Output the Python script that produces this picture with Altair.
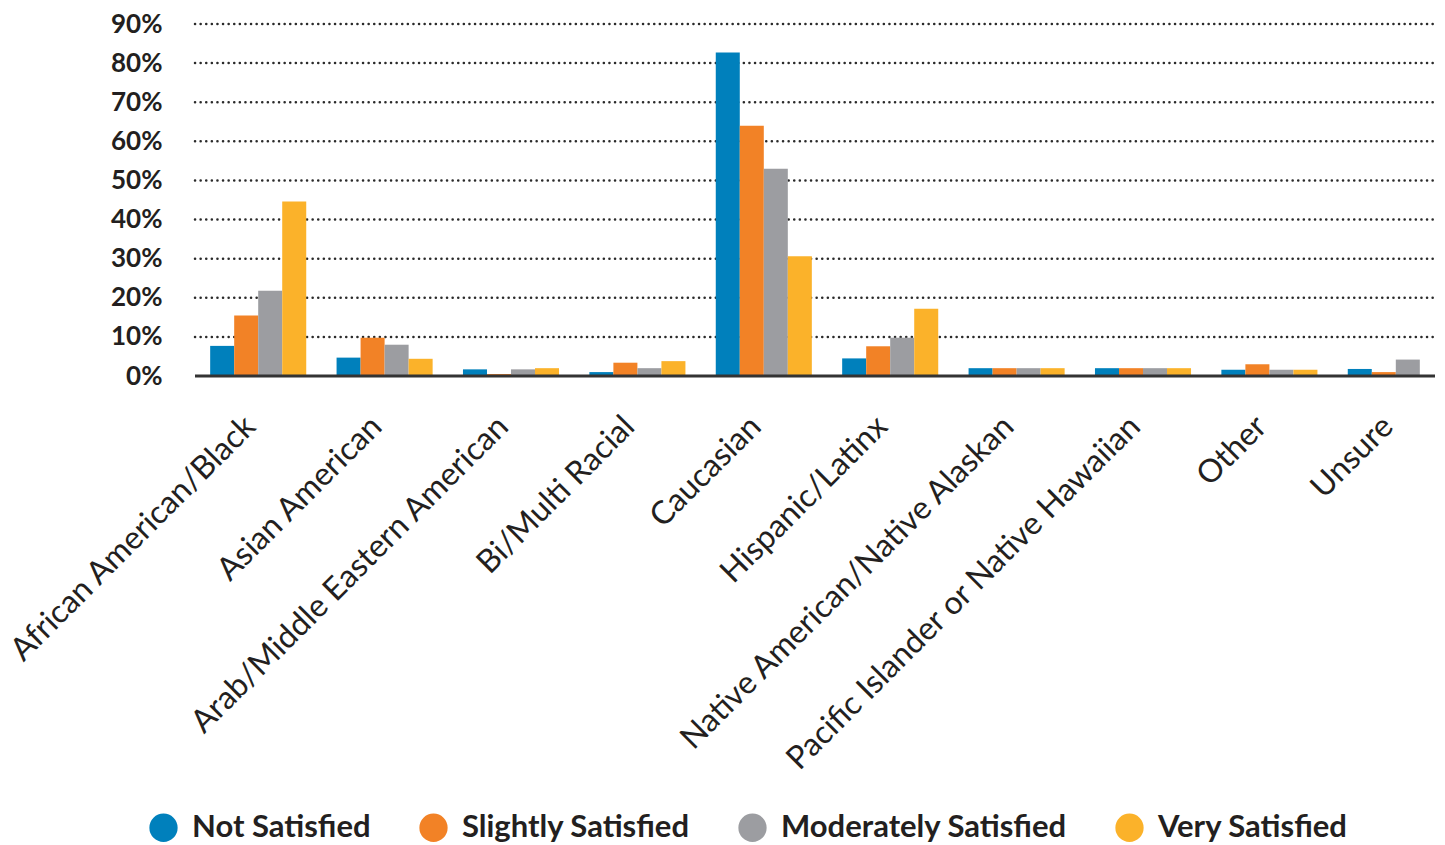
import altair as alt
import pandas as pd

categories = ["African American/Black", "Asian American", "Arab/Middle Eastern American",
              "Bi/Multi Racial", "Caucasian", "Hispanic/Latinx",
              "Native American/Native Alaskan", "Pacific Islander or Native Hawaiian",
              "Other", "Unsure"]
series = ["Not Satisfied", "Slightly Satisfied", "Moderately Satisfied", "Very Satisfied"]
colors = ["#0080BC", "#F28226", "#9C9DA1", "#FBB22A"]
tick_values = [0, 0.1, 0.2, 0.3, 0.4, 0.5, 0.6, 0.7, 0.8, 0.9]

not_satisfied = [7.7, 4.7, 1.7, 1.0, 82.7, 4.5, 2.0, 2.0, 1.6, 1.8]
slightly_satisfied = [15.5, 9.8, 0.5, 3.4, 64.0, 7.6, 2.0, 2.0, 3.0, 1.0]
moderately_satisfied = [21.8, 8.0, 1.7, 2.0, 53.0, 9.8, 2.0, 2.0, 1.6, 4.2]
very_satisfied = [44.6, 4.4, 2.0, 3.8, 30.6, 17.2, 2.0, 2.0, 1.6, 0.0]

rows = []
for s, vals in zip(series, [not_satisfied, slightly_satisfied, moderately_satisfied, very_satisfied]):
    for c, v in zip(categories, vals):
        rows.append({"group": c, "series": s, "value": v / 100})
df = pd.DataFrame(rows)

yscale = alt.Scale(domain=[0, 0.9], nice=False)
yaxis = alt.Axis(values=tick_values, format=".0%", labelFont="Lato",
                 labelFontWeight="bold", labelFontSize=26, labelColor="#231F20",
                 labelPadding=33, ticks=False, domain=False, grid=False)

grid = alt.Chart(pd.DataFrame({"value": tick_values[1:]})).mark_rule(
    color="#2a2a2a", strokeWidth=2.5, strokeDash=[0.1, 5.5], strokeCap="round"
).encode(y=alt.Y("value:Q", title=None, scale=yscale, axis=yaxis),
         x=alt.value(0), x2=alt.value(1240))

bars = alt.Chart(df).mark_bar().encode(
    x=alt.X("group:N", sort=categories, title=None,
            scale=alt.Scale(paddingInner=0.24, paddingOuter=0.12, range=[0, 1264]),
            axis=alt.Axis(labelAngle=-45, labelAlign="right", labelBaseline="middle",
                          labelFont="Lato", labelFontSize=32, labelColor="#231F20",
                          labelPadding=45, labelOffset=-8, ticks=False, domain=False,
                          grid=False, labelLimit=700)),
    xOffset=alt.XOffset("series:N", sort=series),
    y=alt.Y("value:Q", title=None, scale=yscale, axis=yaxis),
    color=alt.Color("series:N", sort=series,
                    scale=alt.Scale(domain=series, range=colors),
                    legend=alt.Legend(title=None, orient="none", direction="horizontal",
                                      legendX=-47, legendY=788,
                                      symbolType="circle", symbolSize=800,
                                      symbolStrokeWidth=0, symbolOpacity=1,
                                      labelFont="Lato", labelFontWeight="bold",
                                      labelFontSize=31, labelColor="#231F20",
                                      columnPadding=47, labelOffset=13,
                                      labelLimit=400)),
)

baseline = alt.Chart(pd.DataFrame({"value": [0]})).mark_rule(
    color="#333333", strokeWidth=3
).encode(y=alt.Y("value:Q", title=None, scale=yscale, axis=yaxis),
         x=alt.value(0), x2=alt.value(1240))

chart = alt.layer(grid, bars, baseline).properties(
    width=1240, height=352,
    background="white",
    autosize=alt.AutoSizeParams(type="none"),
    padding={"left": 195, "top": 24, "right": 10, "bottom": 469},
).configure_view(stroke="transparent", strokeWidth=0)

chart.save("out.html", embed_options={"renderer": "svg", "actions": False})
